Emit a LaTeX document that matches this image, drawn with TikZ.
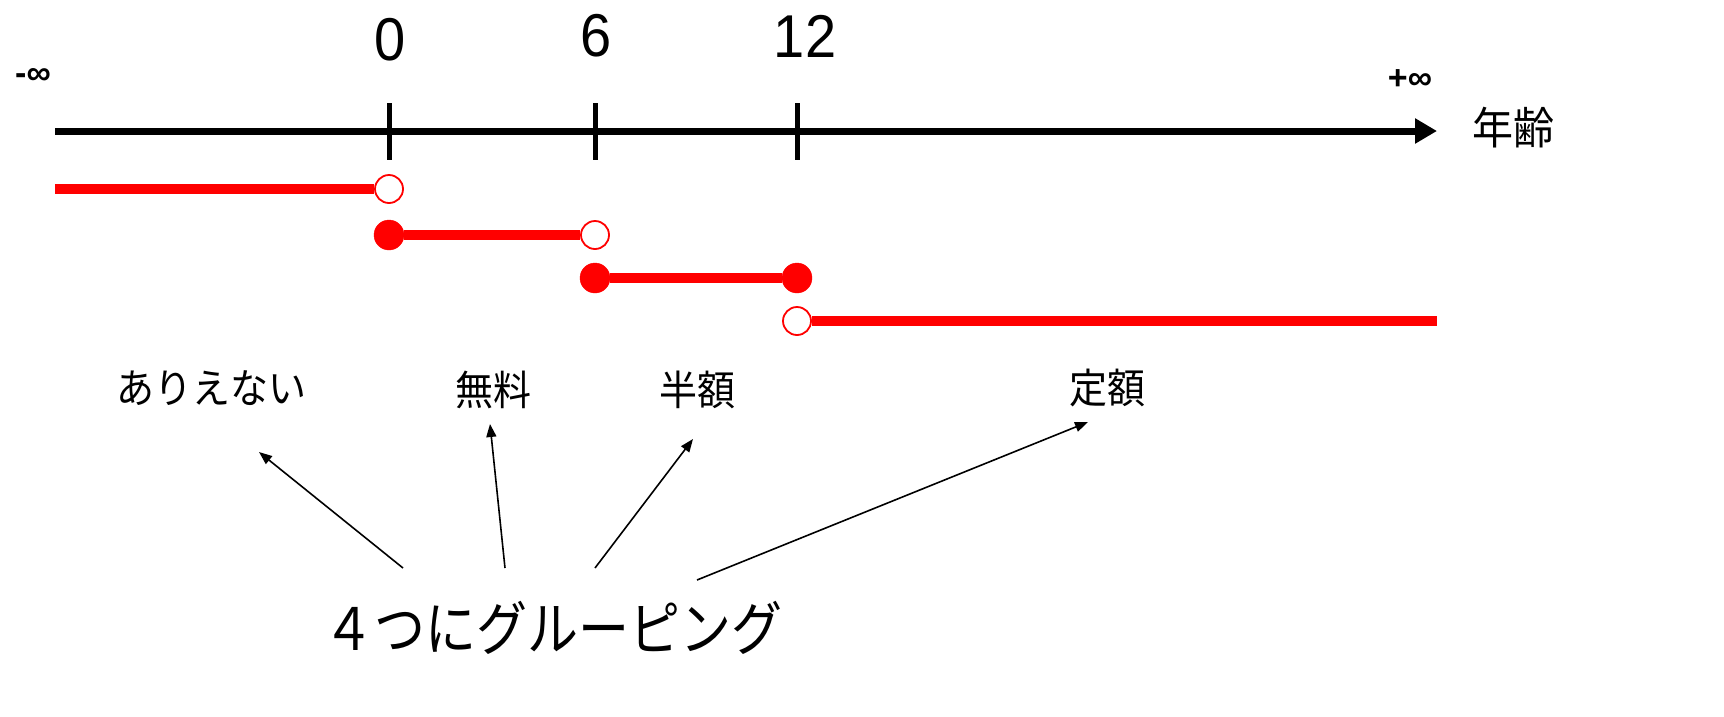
\documentclass[tikz,border=0pt]{standalone}
\usepackage{fontspec}
\setmainfont{Liberation Sans}
\newfontfamily\jp{Noto Sans CJK JP}
\usetikzlibrary{arrows.meta}
\definecolor{segred}{RGB}{255,0,0}
\tikzset{
  axisline/.style={line width=7pt,-{Triangle[length=22pt,width=24pt]}},
  tickline/.style={line width=5pt},
  segline/.style={line width=10pt,segred},
  openpt/.style={circle,draw=segred,line width=1.8pt,fill=white,minimum size=28pt,inner sep=0pt},
  closedpt/.style={circle,draw=segred,fill=segred,minimum size=30pt,inner sep=0pt},
  numlabel/.style={font=\fontsize{56}{60}\selectfont,yscale=1.08,transform shape},
  inflabel/.style={font=\bfseries\fontsize{34}{36}\selectfont},
  grouplabel/.style={font=\jp\fontsize{38}{42}\selectfont,yscale=1.08,transform shape},
  pointer/.style={line width=1.6pt,-{Triangle[length=13pt,width=10pt]}},
}
\begin{document}
\begin{tikzpicture}[x=1pt,y=-1pt]
\useasboundingbox (0,0) rectangle (1724,716);
% axis
\coordinate (axL) at (55,131);
\coordinate (axR) at (1437,131);
\draw[axisline] (axL) -- (axR);
\coordinate (t0a) at (389,103); \coordinate (t0b) at (389,160);
\coordinate (t6a) at (595,103); \coordinate (t6b) at (595,160);
\coordinate (t12a) at (797,103); \coordinate (t12b) at (797,160);
\draw[tickline] (t0a) -- (t0b);
\draw[tickline] (t6a) -- (t6b);
\draw[tickline] (t12a) -- (t12b);
% labels on axis
\node[numlabel] (n0) at (390,40) {0};
\node[numlabel] (n6) at (596,36) {6};
\node[numlabel] (n12) at (805,36) {12};
\node[inflabel] (minf) at (33,76) {-∞};
\node[inflabel] (pinf) at (1410,80) {+∞};
\node[font=\jp\fontsize{41}{44}\selectfont,yscale=1.08,transform shape] (age) at (1513,128) {年齢};
% segments
\coordinate (s1L) at (55,189);
\node[openpt] (p1) at (389,189) {};
\draw[segline] (s1L) -- (p1.west);
\node[closedpt] (p2a) at (389,235) {};
\node[openpt] (p2b) at (595,235) {};
\draw[segline] (p2a) -- (p2b.west);
\node[closedpt] (p3a) at (595,278) {};
\node[closedpt] (p3b) at (797,278) {};
\draw[segline] (p3a) -- (p3b);
\node[openpt] (p4) at (797,321) {};
\coordinate (s4R) at (1437,321);
\draw[segline] (p4.east) -- (s4R);
% group labels
\node[grouplabel] (g1) at (211,388) {ありえない};
\node[grouplabel] (g2) at (493,390) {無料};
\node[grouplabel] (g3) at (697,390) {半額};
\node[grouplabel] (g4) at (1107,388) {定額};
\node[font=\jp\fontsize{51}{56}\selectfont,yscale=1.15,transform shape] (grp) at (553,628) {４つにグルーピング};
% pointers
\coordinate (a1s) at (403,568); \coordinate (a1e) at (259,452);
\coordinate (a2s) at (505,568); \coordinate (a2e) at (490,424);
\coordinate (a3s) at (595,568); \coordinate (a3e) at (693,439);
\coordinate (a4s) at (697,580); \coordinate (a4e) at (1088,422);
\draw[pointer] (a1s) -- (a1e);
\draw[pointer] (a2s) -- (a2e);
\draw[pointer] (a3s) -- (a3e);
\draw[pointer] (a4s) -- (a4e);
\end{tikzpicture}
\end{document}
